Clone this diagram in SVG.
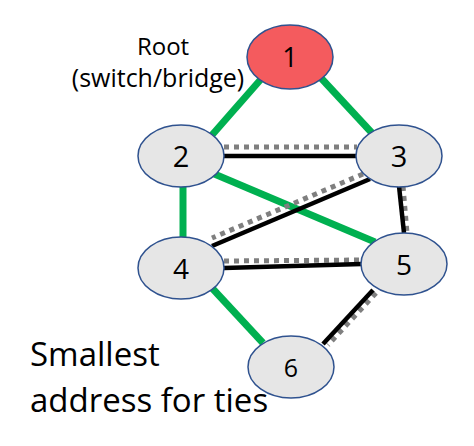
<svg xmlns="http://www.w3.org/2000/svg" width="474" height="446" viewBox="0 0 474 446">
<style>
.g{stroke:#00B050;stroke-width:7;fill:none}
.b{stroke:#000;stroke-width:4.5;fill:none}
.d{stroke:#7F7F7F;stroke-width:5;stroke-dasharray:5 5;fill:none}
.n{fill:#E6E6E6;stroke:#2F528F;stroke-width:1.5}
.r{fill:#F45B5E;stroke:#2F528F;stroke-width:1.5}
.t{font-family:"Open Sans","Liberation Sans",sans-serif;fill:#000}
.l{text-anchor:middle;font-family:"Open Sans","Liberation Sans",sans-serif;fill:#000}
</style>
<rect width="474" height="446" fill="#fff"/>
<g id="connectors">
<line class="g" x1="262" y1="78" x2="212" y2="135"/>
<line class="g" x1="321" y1="78" x2="372" y2="133"/>
<line class="d" x1="224" y1="147" x2="357" y2="147"/>
<line class="b" x1="224" y1="156" x2="357" y2="156"/>
<line class="g" x1="183" y1="166" x2="183" y2="238"/>
<line class="g" x1="212" y1="173" x2="375" y2="242"/>
<line class="d" x1="363" y1="174" x2="212" y2="238"/>
<line class="b" x1="370" y1="179" x2="212" y2="246"/>
<line class="d" x1="224" y1="261" x2="362" y2="260"/>
<line class="b" x1="224" y1="268" x2="362" y2="264"/>
<line class="d" x1="403" y1="186" x2="407" y2="233"/>
<line class="b" x1="399" y1="186" x2="404" y2="233"/>
<line class="d" x1="376" y1="293" x2="328" y2="345"/>
<line class="b" x1="373" y1="290" x2="323" y2="344"/>
<line class="g" x1="212" y1="288" x2="263" y2="343"/>
</g>
<g id="node1"><ellipse class="r" cx="290" cy="57" rx="43" ry="32"/><text class="l" x="290" y="67" font-size="27">1</text></g>
<g id="node2"><ellipse class="n" cx="181" cy="156" rx="43" ry="31"/><text class="l" x="181" y="167" font-size="29">2</text></g>
<g id="node3"><ellipse class="n" cx="399" cy="156" rx="43" ry="31"/><text class="l" x="399" y="167" font-size="29">3</text></g>
<g id="node4"><ellipse class="n" cx="181" cy="268" rx="43" ry="31"/><text class="l" x="181" y="279" font-size="28">4</text></g>
<g id="node5"><ellipse class="n" cx="404" cy="264" rx="43" ry="31"/><text class="l" x="404" y="275" font-size="28">5</text></g>
<g id="node6"><ellipse class="n" cx="291" cy="367" rx="43" ry="31"/><text class="l" x="291" y="377" font-size="25">6</text></g>
<g id="labels">
<text class="l" x="163" y="55" font-size="24">Root</text>
<text class="l" x="158" y="87" font-size="25">(switch/bridge)</text>
<text class="t" x="30" y="366" font-size="33">Smallest</text>
<text class="t" x="30" y="412" font-size="33">address for ties</text>
</g>
</svg>
